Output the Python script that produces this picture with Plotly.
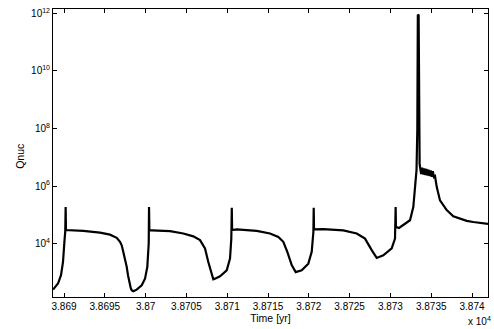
import plotly.graph_objects as go

# Time [yr] and Qnuc values
time_yr = [
    38688.652, 38689.265, 38689.632, 38689.877, 38690.061, 38690.150, 38690.200, 38690.240,
    38692.365, 38694.412, 38695.637, 38696.458, 38696.863, 38697.071, 38697.267, 38697.475,
    38697.684, 38697.843, 38698.002, 38698.174,
    38698.297, 38698.493, 38698.909, 38699.522, 38699.926, 38700.208, 38700.380, 38700.420,
    38700.460,
    38700.748, 38702.990, 38704.620, 38705.846, 38706.667, 38707.279, 38707.684, 38708.100,
    38708.297, 38708.505, 38709.118, 38709.939, 38710.343, 38710.502, 38710.560, 38710.600,
    38711.164, 38713.615, 38715.245, 38716.262, 38716.875, 38717.365, 38717.904, 38718.395,
    38719.130, 38719.939, 38720.355, 38720.560, 38720.600, 38720.640,
    38721.777, 38724.228, 38725.870, 38726.887, 38727.708, 38728.321, 38729.130, 38730.159,
    38730.564, 38730.640, 38730.680,
    38731.054, 38731.789, 38732.402, 38732.806, 38733.015, 38733.200, 38733.300, 38733.360,
    38733.460, 38733.530, 38733.580,
    38733.640, 38733.770, 38733.900, 38734.030, 38734.160, 38734.290, 38734.420, 38734.550,
    38734.680, 38734.810, 38734.940, 38735.070, 38735.200, 38735.330, 38735.466,
    38735.674, 38736.078, 38736.899, 38737.708, 38738.529, 38739.350, 38740.159, 38740.980,
    38741.961,
]
qnuc = [
    251, 407, 794, 2290, 12900, 26000, 186000, 29500,
    27500, 24000, 20400, 15800, 11500, 8710, 5130, 3020,
    1550, 794, 457, 288,
    240, 219, 251, 355, 603, 1550, 10000, 186000,
    28800,
    28800, 26900, 22400, 17800, 13200, 6760, 2290, 794,
    575, 603, 724, 1170, 3020, 14800, 174000, 29500,
    30900, 27500, 22400, 17000, 11500, 5130, 1780, 1020,
    1170, 2000, 5130, 25100, 174000, 30900,
    31600, 28800, 22400, 14800, 5890, 3160, 3890, 6760,
    14800, 186000, 38000,
    34700, 50100, 64600, 186000, 708000, 3.55e6, 1.0e8, 9.0e11,
    8.5e11, 1.0e7, 5.8e6,
    4.4e6, 2.6e6, 4.3e6, 2.5e6, 4.1e6, 2.4e6, 3.9e6, 2.3e6,
    3.7e6, 2.2e6, 3.5e6, 2.1e6, 3.3e6, 2.05e6, 2.2e6,
    933000, 316000, 145000, 89100, 74100, 61700, 56200, 51300,
    47900,
]

x_tickvals = [38690, 38695, 38700, 38705, 38710, 38715, 38720, 38725, 38730, 38735, 38740]
x_ticktext = ["3.869", "3.8695", "3.87", "3.8705", "3.871", "3.8715", "3.872",
              "3.8725", "3.873", "3.8735", "3.874"]
y_tickvals = [1e4, 1e6, 1e8, 1e10, 1e12]
y_ticktext = ["10<sup>4</sup>", "10<sup>6</sup>", "10<sup>8</sup>",
              "10<sup>10</sup>", "10<sup>12</sup>"]

FONT = "Liberation Sans, Arial, Helvetica, sans-serif"

fig = go.Figure()
fig.add_trace(go.Scatter(x=time_yr, y=qnuc, mode="lines",
                         line=dict(color="black", width=2.2), showlegend=False))

fig.update_layout(
    width=494, height=329,
    margin=dict(l=53, r=6, t=9, b=32),
    paper_bgcolor="white", plot_bgcolor="white",
    font=dict(family=FONT, size=10, color="black"),
)
fig.update_xaxes(
    range=[38688.65, 38741.96],
    tickvals=x_tickvals, ticktext=x_ticktext,
    ticks="inside", ticklen=4, tickcolor="black", tickwidth=1,
    showline=True, linecolor="black", linewidth=1, mirror="ticks",
    showgrid=False, zeroline=False,
    title=dict(text="Time [yr]", standoff=0, font=dict(size=10.5)),
    automargin=False,
)
fig.update_yaxes(
    type="log", range=[2.143, 12.15],
    tickvals=y_tickvals, ticktext=y_ticktext,
    ticks="inside", ticklen=4, tickcolor="black", tickwidth=1,
    showline=True, linecolor="black", linewidth=1, mirror="ticks",
    showgrid=False, zeroline=False,
    automargin=False,
)
fig.add_annotation(
    x=-0.076, y=0.49, xref="paper", yref="paper",
    text="Qnuc", showarrow=False, textangle=-90,
    xanchor="center", yanchor="middle", font=dict(size=10.5),
)
fig.add_annotation(
    x=1.012, y=-0.083, xref="paper", yref="paper",
    text="x 10<sup>4</sup>", showarrow=False,
    xanchor="right", yanchor="middle", font=dict(size=10),
)

fig.write_html("out.html", config={"displayModeBar": False},
               post_script="document.body.style.margin='0px';")
